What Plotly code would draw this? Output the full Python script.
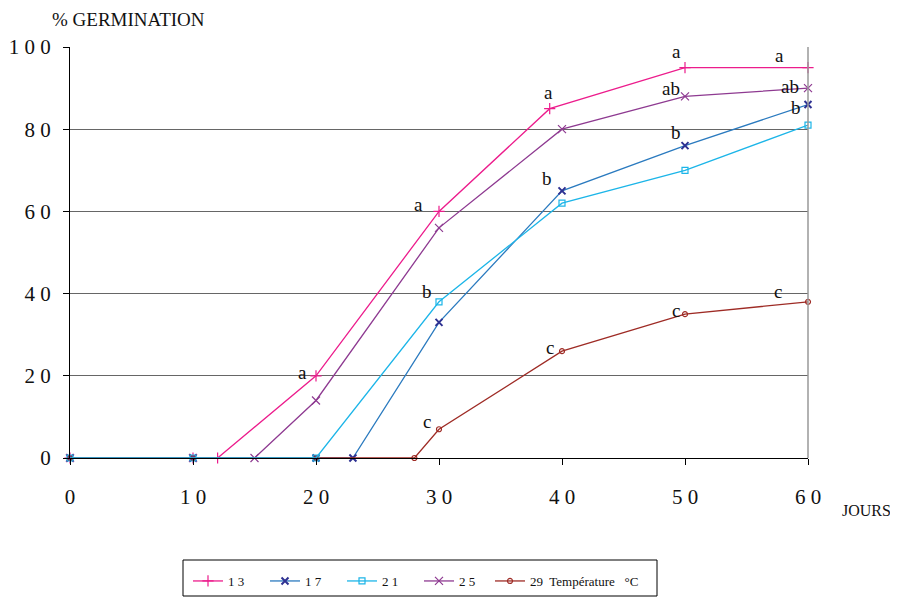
import plotly.graph_objects as go

# ---- data ----
days_13 = [0, 10, 12, 20, 30, 39, 50, 60]
germ_13 = [0, 0, 0, 20, 60, 85, 95, 95]

days_17 = [0, 10, 20, 23, 30, 40, 50, 60]
germ_17 = [0, 0, 0, 0, 33, 65, 76, 86]

days_21 = [0, 10, 20, 30, 40, 50, 60]
germ_21 = [0, 0, 0, 38, 62, 70, 81]

days_25 = [0, 10, 15, 20, 30, 40, 50, 60]
germ_25 = [0, 0, 0, 14, 56, 80, 88, 90]

days_29 = [0, 10, 20, 28, 30, 40, 50, 60]
germ_29 = [0, 0, 0, 0, 7, 26, 35, 38]

series_names = ["1 3", "1 7", "2 1", "2 5", "29  Température   °C"]

x_ticks = [0, 10, 20, 30, 40, 50, 60]
x_ticktext = ["0", "1 0", "2 0", "3 0", "4 0", "5 0", "6 0"]
y_ticks = [0, 20, 40, 60, 80, 100]
y_ticktext = ["0", "2 0", "4 0", "6 0", "8 0", "1 0 0"]

# significance letters (text, x, y)
sig_text = ["a", "a", "a", "a", "a", "ab", "ab", "b", "b", "b", "b", "c", "c", "c", "c"]
sig_x = [18.9, 28.3, 38.9, 49.3, 57.7, 48.9, 58.5, 29.0, 38.8, 49.3, 59.0, 29.0, 39.0, 49.3, 57.6]
sig_y = [20.7, 61.8, 89.0, 98.8, 98.0, 90.0, 90.5, 40.4, 68.1, 79.3, 85.2, 8.8, 27.0, 36.0, 40.4]

SERIF = "Liberation Serif"

# page has an 8px body margin: the figure is drawn 8px shorter/narrower
W, H = 890, 589
ML, MT, MR, MB = 62, 39, 90, 139
PW, PH = W - ML - MR, H - MT - MB

def px_x(sx):  # screen x -> paper
    return (sx - 70) / PW

def px_y(sy):  # screen y -> paper
    return (458 - sy) / PH

fig = go.Figure()

def add(xs, ys, name, line_color, marker_color, symbol, size, rank, mlw=1.2, legend="legend"):
    fig.add_trace(go.Scatter(
        x=xs, y=ys, name=name, mode="lines+markers",
        line=dict(color=line_color, width=1.3),
        marker=dict(symbol=symbol, size=size, color=marker_color,
                    line=dict(color=marker_color, width=mlw)),
        legendrank=rank, cliponaxis=False, legend=legend,
    ))

add(days_13, germ_13, series_names[0], "#EC1C8C", "#EC1C8C", "cross-thin-open", 8, 1)
add(days_17, germ_17, series_names[1], "#2A7ABF", "#2E3192", "x-thin-open", 7, 2, 2)
add(days_25, germ_25, series_names[3], "#8E3A91", "#8E3A91", "x-thin-open", 8, 4)
add(days_29, germ_29, series_names[4], "#9E2B25", "#9E2B25", "circle-open", 5, 5, legend="legend2")
add(days_21, germ_21, series_names[2], "#1CB5E8", "#1CB5E8", "square-open", 6, 3)

for t, xx, yy in zip(sig_text, sig_x, sig_y):
    fig.add_annotation(x=xx, y=yy, text=t, showarrow=False,
                       font=dict(family=SERIF, size=19, color="#111111"))

fig.add_annotation(xref="paper", yref="paper", x=px_x(50), y=px_y(20), xanchor="left", yanchor="middle",
                   text="% GERMINATION", showarrow=False,
                   font=dict(family=SERIF, size=19, color="#111111"))
fig.add_annotation(xref="paper", yref="paper", x=px_x(840), y=px_y(510), xanchor="left", yanchor="middle",
                   text="JOURS", showarrow=False,
                   font=dict(family=SERIF, size=16, color="#111111"))

# right border
fig.add_shape(type="line", xref="paper", yref="paper", x0=1, x1=1, y0=0, y1=1,
              line=dict(color="#999999", width=1.5))
# legend frame
fig.add_shape(type="rect", xref="paper", yref="paper",
              x0=px_x(183), x1=px_x(657), y0=px_y(596), y1=px_y(560),
              line=dict(color="#000000", width=1))

legend_font = dict(family=SERIF, size=13, color="#111111")
fig.update_layout(
    width=W, height=H,
    margin=dict(l=ML, r=MR, t=MT, b=MB, autoexpand=False),
    paper_bgcolor="white", plot_bgcolor="white",
    showlegend=True,
    legend=dict(orientation="h", x=px_x(188), y=px_y(566), xanchor="left", yanchor="top",
                borderwidth=0, bgcolor="rgba(0,0,0,0)", font=legend_font,
                entrywidth=32, itemwidth=30, tracegroupgap=0),
    legend2=dict(orientation="h", x=px_x(490), y=px_y(566), xanchor="left", yanchor="top",
                 borderwidth=0, bgcolor="rgba(0,0,0,0)", font=legend_font,
                 itemwidth=30),
    xaxis=dict(range=[0, 60], tickvals=x_ticks, ticktext=x_ticktext, automargin=False,
               showgrid=False, zeroline=False, showline=True, linecolor="#000000", linewidth=1.2,
               ticks="outside", ticklen=6, tickcolor="#000000",
               ticklabelstandoff=14,
               tickfont=dict(family=SERIF, size=21, color="#111111")),
    yaxis=dict(range=[0, 100], tickvals=y_ticks, ticktext=y_ticktext, automargin=False,
               showgrid=True, gridcolor="#666666", gridwidth=1.2, zeroline=False,
               showline=True, linecolor="#000000", linewidth=1.2,
               ticks="outside", ticklen=6, tickcolor="#000000",
               ticklabelstandoff=8,
               tickfont=dict(family=SERIF, size=21, color="#111111")),
)

fig.write_html("out.html")
